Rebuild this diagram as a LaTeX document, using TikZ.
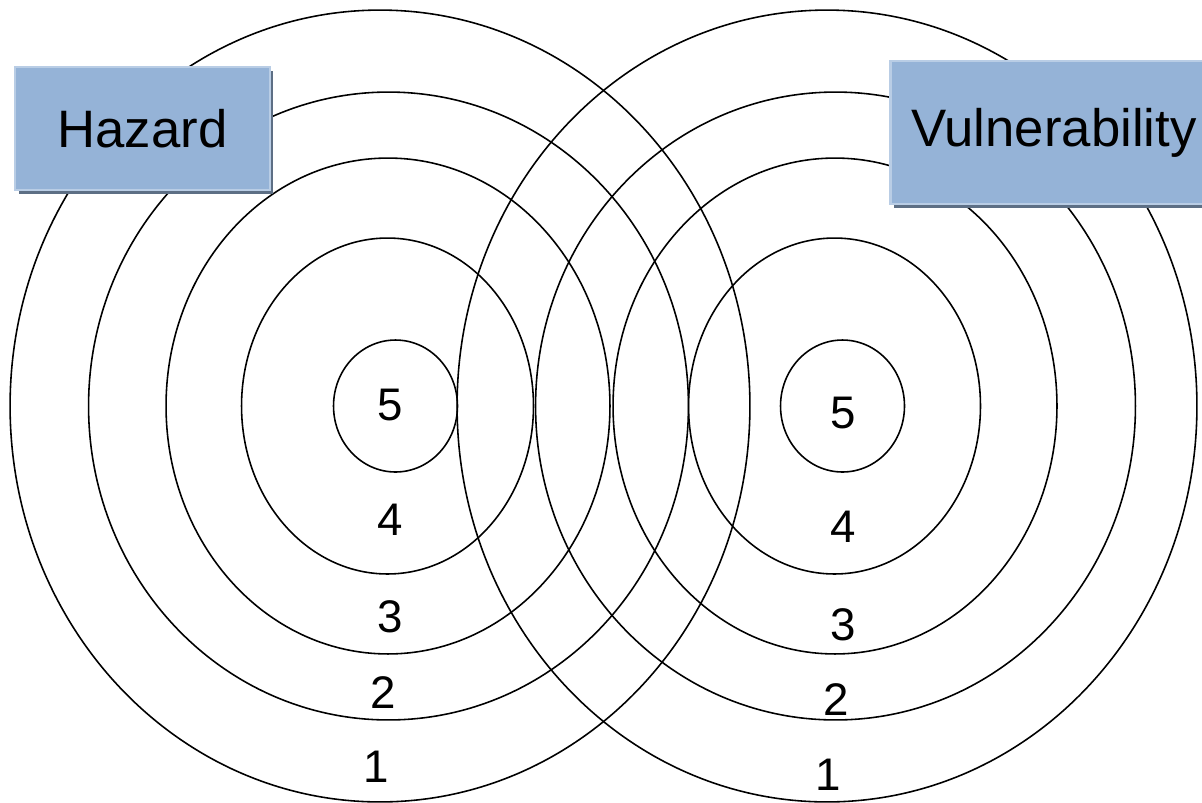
\documentclass[tikz,border=0pt]{standalone}
\usepackage{fontspec}
\setmainfont{Liberation Sans}
\usetikzlibrary{shadows}
\definecolor{boxblue}{HTML}{95B3D7}
\definecolor{boxedge}{HTML}{B9CDE5}
\definecolor{boxshade}{HTML}{5D6F85}

\tikzset{
  ring/.style={draw=black, line width=0.9pt},
  level/.style={font=\fontsize{26}{30}\selectfont, inner sep=0pt},
  factor/.style={fill=boxblue, draw=boxedge, line width=1.2pt,
    font=\fontsize{30}{36}\selectfont, inner sep=0pt,
    drop shadow={shadow xshift=2pt, shadow yshift=-2pt, fill=boxshade, opacity=1}},
}

\begin{document}
\begin{tikzpicture}[x=0.02cm, y=-0.02cm]
  \clip (0,0) rectangle (1202,802);
  % rings, outer to inner, hazard left and vulnerability right
  \foreach \dx/\rx/\ry in {0/7.4/7.92, 8.5/6/6.28, 8/4.44/4.96, 7.5/2.92/3.36, 15.5/1.24/1.32}{
    \draw[ring] (380+\dx,406) ellipse [x radius=\rx cm, y radius=\ry cm];
    \draw[ring] (827+\dx,406) ellipse [x radius=\rx cm, y radius=\ry cm];
  }

  % levels of the hazard rings
  \node[level] (h5) at (390,405) {5};
  \node[level] (h4) at (390,520) {4};
  \node[level] (h3) at (390,617) {3};
  \node[level] (h2) at (383,693) {2};
  \node[level] (h1) at (376,767) {1};

  % levels of the vulnerability rings
  \node[level] (v5) at (843,413) {5};
  \node[level] (v4) at (843,527) {4};
  \node[level] (v3) at (843,625) {3};
  \node[level] (v2) at (836,700) {2};
  \node[level] (v1) at (828,775) {1};

  % labels
  \node[factor, minimum width=5.1cm, minimum height=2.46cm] (hazard) at (142.5,128.5) {Hazard};
  \node[factor, minimum width=6.54cm, minimum height=2.86cm] (vuln) at (1054,132.5) {Vulnerability};
\end{tikzpicture}
\end{document}
